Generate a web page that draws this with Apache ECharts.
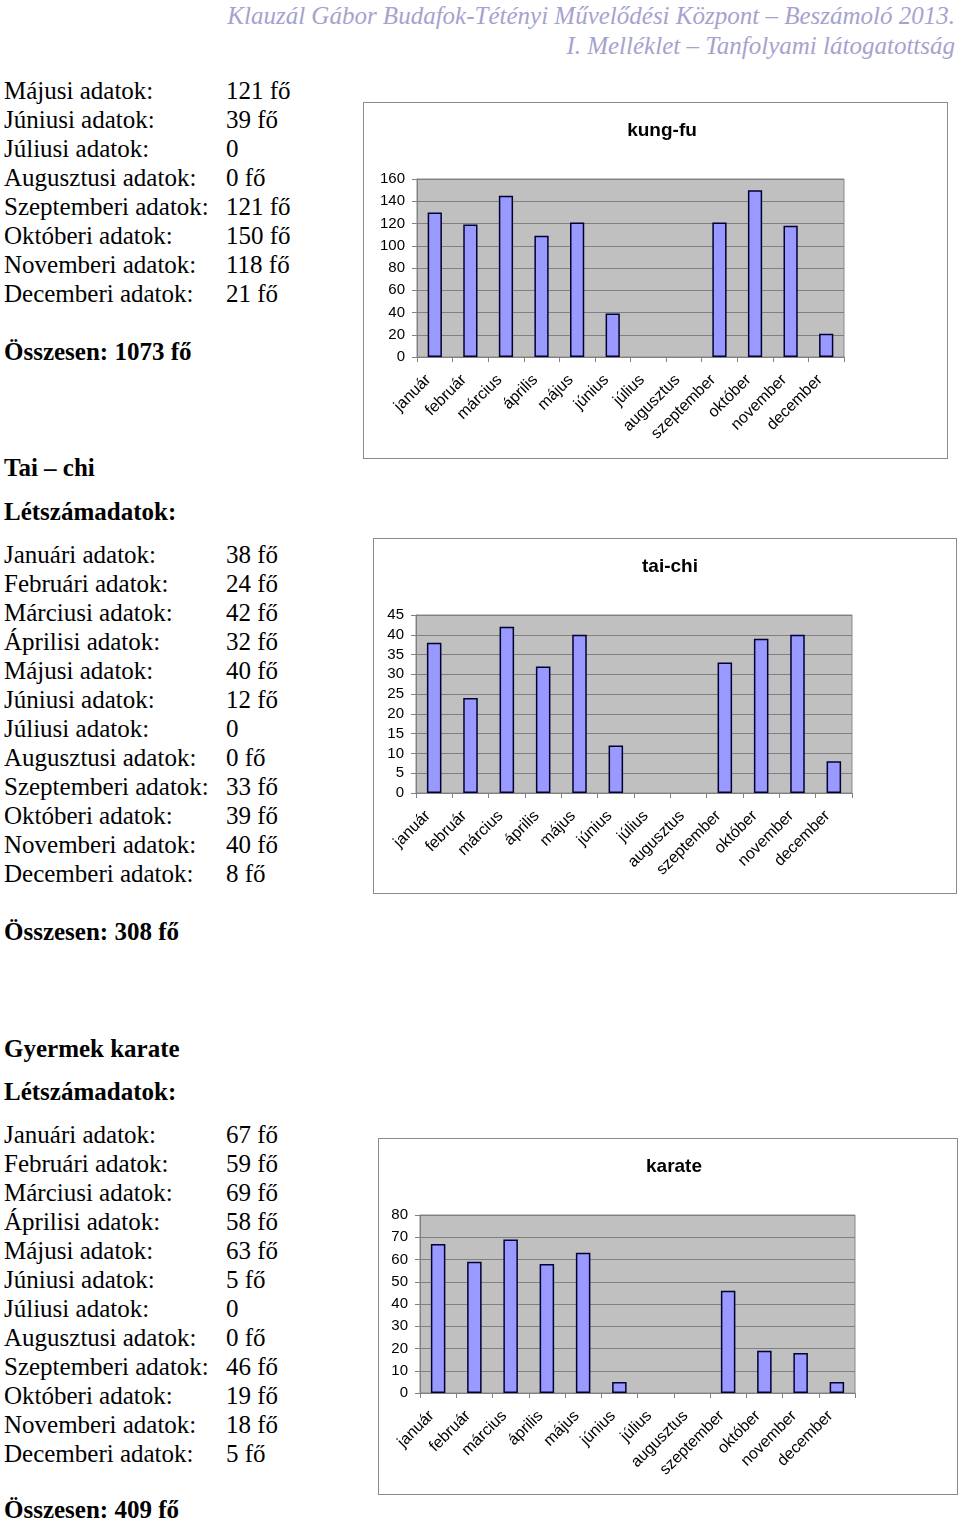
<!DOCTYPE html>
<html>
<head>
<meta charset="utf-8">
<script src="https://cdn.jsdelivr.net/npm/echarts@6/dist/echarts.min.js"></script>
<style>
  body { margin: 0; width: 960px; height: 1521px; position: relative; background: #fff; overflow: hidden; }
  .hdr { position: absolute; right: 5px; font-family: "Liberation Serif", serif; font-style: italic; font-size: 25px; color: #a6a2cf; line-height: 30px; text-align: right; white-space: nowrap; }
  .txt { position: absolute; left: 4px; font-family: "Liberation Serif", serif; font-size: 25px; line-height: 29px; color: #000; }
  .txt .row { white-space: nowrap; }
  .txt .lab { display: inline-block; width: 222px; }
  .b { font-weight: bold; white-space: nowrap; }
  .box { position: absolute; border: 1px solid #8a8a8a; background: #fff; box-sizing: border-box; }
</style>
</head>
<body>
<div class="hdr" style="top:1px">Klauzál Gábor Budafok-Tétényi Művelődési Központ – Beszámoló 2013.</div>
<div class="hdr" style="top:31px">I. Melléklet – Tanfolyami látogatottság</div>

<div class="txt" id="kungfuText" style="top:76px"></div>
<div class="txt b" style="top:337px">Összesen: 1073 fő</div>

<div class="txt b" style="top:453px">Tai – chi</div>
<div class="txt b" style="top:497px">Létszámadatok:</div>
<div class="txt" id="taichiText" style="top:540px"></div>
<div class="txt b" style="top:917px">Összesen: 308 fő</div>

<div class="txt b" style="top:1034px">Gyermek karate</div>
<div class="txt b" style="top:1077px">Létszámadatok:</div>
<div class="txt" id="karateText" style="top:1120px"></div>
<div class="txt b" style="top:1495px">Összesen: 409 fő</div>

<div class="box" id="kungfu" style="left:363px;top:102px;width:585px;height:357px"></div>
<div class="box" id="taichi" style="left:373px;top:538px;width:584px;height:356px"></div>
<div class="box" id="karate" style="left:378px;top:1138px;width:580px;height:357px"></div>

<script>
  const months = ['január', 'február', 'március', 'április', 'május', 'június', 'július', 'augusztus', 'szeptember', 'október', 'november', 'december']
  const rowLabels = ['Januári adatok:', 'Februári adatok:', 'Márciusi adatok:', 'Áprilisi adatok:', 'Májusi adatok:', 'Júniusi adatok:', 'Júliusi adatok:', 'Augusztusi adatok:', 'Szeptemberi adatok:', 'Októberi adatok:', 'Novemberi adatok:', 'Decemberi adatok:']

  const kungfu = [130, 119, 145, 109, 121, 39, 0, 0, 121, 150, 118, 21]
  const taichi = [38, 24, 42, 32, 40, 12, 0, 0, 33, 39, 40, 8]
  const karate = [67, 59, 69, 58, 63, 5, 0, 0, 46, 19, 18, 5]

  // the kung-fu list continues from the previous page, so it starts at May
  function fillRows(id, values, from) {
    const el = document.getElementById(id)
    let html = ''
    for (let i = from; i < values.length; i++) {
      const v = (i === 6) ? '0' : values[i] + ' fő'
      html += '<div class="row"><span class="lab">' + rowLabels[i] + '</span>' + v + '</div>'
    }
    el.innerHTML = html
  }
  fillRows('kungfuText', kungfu, 4)
  fillRows('taichiText', taichi, 0)
  fillRows('karateText', karate, 0)

  const font = 'Liberation Sans, Arial, sans-serif'

  function initChart(id, title, data, max, interval, grid, titleLeft) {
    const chart = echarts.init(document.getElementById(id))
    chart.setOption({
      animation: false,
      title: {
        text: title,
        left: titleLeft,
        top: 13,
        textAlign: 'center',
        textStyle: { fontFamily: font, fontSize: 19, fontWeight: 'bold', color: '#000' }
      },
      grid: Object.assign({
        show: true,
        backgroundColor: '#c0c0c0',
        borderColor: '#8a8a8a',
        borderWidth: 1
      }, grid),
      xAxis: {
        type: 'category',
        data: months,
        axisLine: { lineStyle: { color: '#808080', width: 1 } },
        axisTick: { show: true, length: 5, lineStyle: { color: '#808080' } },
        // right padding pushes the slanted labels down-left, as Excel places them
        axisLabel: { interval: 0, rotate: 45, margin: 14, padding: [0, 9, 0, 0], fontFamily: font, fontSize: 16, color: '#000' }
      },
      yAxis: {
        type: 'value',
        min: 0,
        max,
        interval,
        axisLine: { show: true, lineStyle: { color: '#808080', width: 1 } },
        axisTick: { show: true, length: 5, lineStyle: { color: '#808080' } },
        axisLabel: { margin: 12, fontFamily: font, fontSize: 15, color: '#000' },
        splitLine: { lineStyle: { color: '#808080', width: 1 } }
      },
      series: [{
        type: 'bar',
        // empty months get no outline, like in the original
        data: data.map(v => ({ value: v, itemStyle: { borderWidth: v === 0 ? 0 : 1.5 } })),
        barWidth: '40%',
        itemStyle: { color: '#9999ff', borderColor: '#000033', borderWidth: 1.5 }
      }]
    })
    return chart
  }

  initChart('kungfu', 'kung-fu', kungfu, 160, 20, { left: 53, top: 76, width: 427, height: 178 }, 293)
  initChart('taichi', 'tai-chi', taichi, 45, 5, { left: 42, top: 76, width: 436, height: 178 }, 291)
  initChart('karate', 'karate', karate, 80, 10, { left: 41, top: 76, width: 435, height: 178 }, 290)
</script>
</body>
</html>
